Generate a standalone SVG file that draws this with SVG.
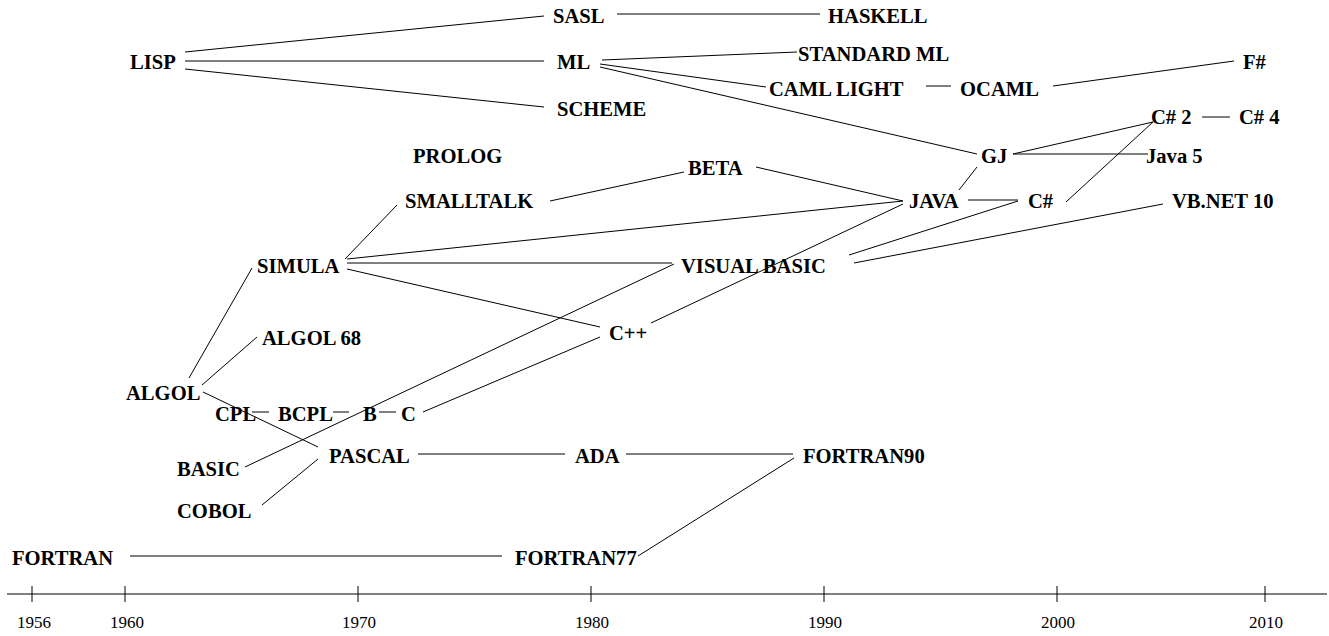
<svg xmlns="http://www.w3.org/2000/svg" width="1329" height="636" viewBox="0 0 1329 636">
<style>
.n{font-family:"Liberation Serif","Times New Roman",serif;font-weight:bold;font-size:20.6px;fill:#000}
.y{font-family:"Liberation Serif","Times New Roman",serif;font-size:17px;fill:#000;text-anchor:middle}
line{stroke:#000;stroke-width:1;fill:none}
</style>
<rect width="1329" height="636" fill="#fff"/>
<g id="connectors">
<line x1="185" y1="52" x2="544" y2="16"/>
<line x1="185" y1="61" x2="544" y2="61"/>
<line x1="185" y1="69" x2="544" y2="107"/>
<line x1="617" y1="14" x2="820" y2="14"/>
<line x1="602" y1="60" x2="797" y2="52"/>
<line x1="600" y1="64" x2="766" y2="87"/>
<line x1="600" y1="67" x2="977" y2="154"/>
<line x1="926" y1="86" x2="951" y2="86"/>
<line x1="1053" y1="86" x2="1234" y2="61"/>
<line x1="1202" y1="117" x2="1230" y2="117"/>
<line x1="1013" y1="154" x2="1153" y2="122"/>
<line x1="1013" y1="154" x2="1148" y2="154"/>
<line x1="977" y1="167" x2="959" y2="190"/>
<line x1="1066" y1="202" x2="1153" y2="122"/>
<line x1="968" y1="200" x2="1018" y2="200"/>
<line x1="1018" y1="201" x2="849" y2="255"/>
<line x1="1163" y1="204" x2="854" y2="263"/>
<line x1="756" y1="167" x2="903" y2="201"/>
<line x1="550" y1="201" x2="684" y2="172"/>
<line x1="345" y1="259" x2="397" y2="205"/>
<line x1="347" y1="259" x2="903" y2="201"/>
<line x1="347" y1="263" x2="672" y2="263"/>
<line x1="347" y1="269" x2="600" y2="327"/>
<line x1="651" y1="323" x2="903" y2="204"/>
<line x1="423" y1="412" x2="600" y2="337"/>
<line x1="245" y1="467" x2="674" y2="264"/>
<line x1="189" y1="378" x2="252" y2="268"/>
<line x1="202" y1="385" x2="257" y2="337"/>
<line x1="203" y1="392" x2="318" y2="447"/>
<line x1="252" y1="412" x2="269" y2="412"/>
<line x1="333" y1="412" x2="349" y2="412"/>
<line x1="379" y1="412" x2="396" y2="412"/>
<line x1="262" y1="505" x2="318" y2="459"/>
<line x1="418" y1="454" x2="565" y2="454"/>
<line x1="626" y1="454" x2="793" y2="454"/>
<line x1="638" y1="556" x2="794" y2="458"/>
<line x1="130" y1="556" x2="502" y2="556"/>
</g>
<g id="axis">
<line x1="7" y1="594" x2="1327" y2="594"/>
<line x1="32" y1="586" x2="32" y2="602"/>
<line x1="125" y1="586" x2="125" y2="602"/>
<line x1="358" y1="586" x2="358" y2="602"/>
<line x1="591" y1="586" x2="591" y2="602"/>
<line x1="824" y1="586" x2="824" y2="602"/>
<line x1="1057" y1="586" x2="1057" y2="602"/>
<line x1="1265" y1="586" x2="1265" y2="602"/>
<text class="y" x="34" y="628">1956</text>
<text class="y" x="127" y="628">1960</text>
<text class="y" x="359" y="628">1970</text>
<text class="y" x="592" y="628">1980</text>
<text class="y" x="825" y="628">1990</text>
<text class="y" x="1058" y="628">2000</text>
<text class="y" x="1266" y="628">2010</text>
</g>
<g id="n-lisp"><text class="n" x="130" y="69">LISP</text></g>
<g id="n-sasl"><text class="n" x="553" y="23">SASL</text></g>
<g id="n-haskell"><text class="n" x="828" y="23">HASKELL</text></g>
<g id="n-ml"><text class="n" x="557" y="69">ML</text></g>
<g id="n-scheme"><text class="n" x="557" y="116">SCHEME</text></g>
<g id="n-standardml"><text class="n" x="798" y="61">STANDARD ML</text></g>
<g id="n-camllight"><text class="n" x="769" y="96">CAML LIGHT</text></g>
<g id="n-ocaml"><text class="n" x="960" y="96">OCAML</text></g>
<g id="n-fsharp"><text class="n" x="1243" y="69">F#</text></g>
<g id="n-csharp2"><text class="n" x="1151" y="124">C# 2</text></g>
<g id="n-csharp4"><text class="n" x="1239" y="124">C# 4</text></g>
<g id="n-prolog"><text class="n" x="413" y="163">PROLOG</text></g>
<g id="n-gj"><text class="n" x="981" y="163">GJ</text></g>
<g id="n-java5"><text class="n" x="1146" y="163">Java 5</text></g>
<g id="n-beta"><text class="n" x="688" y="175">BETA</text></g>
<g id="n-smalltalk"><text class="n" x="405" y="208">SMALLTALK</text></g>
<g id="n-java"><text class="n" x="909" y="208">JAVA</text></g>
<g id="n-csharp"><text class="n" x="1028" y="208">C#</text></g>
<g id="n-vbnet10"><text class="n" x="1172" y="208">VB.NET 10</text></g>
<g id="n-simula"><text class="n" x="257" y="273">SIMULA</text></g>
<g id="n-visualbasic"><text class="n" x="681" y="273">VISUAL BASIC</text></g>
<g id="n-cpp"><text class="n" x="609" y="340">C++</text></g>
<g id="n-algol68"><text class="n" x="262" y="345">ALGOL 68</text></g>
<g id="n-algol"><text class="n" x="126" y="400">ALGOL</text></g>
<g id="n-cpl"><text class="n" x="215" y="421">CPL</text></g>
<g id="n-bcpl"><text class="n" x="278" y="421">BCPL</text></g>
<g id="n-b"><text class="n" x="363" y="421">B</text></g>
<g id="n-c"><text class="n" x="401" y="421">C</text></g>
<g id="n-basic"><text class="n" x="177" y="476">BASIC</text></g>
<g id="n-pascal"><text class="n" x="329" y="463">PASCAL</text></g>
<g id="n-ada"><text class="n" x="575" y="463">ADA</text></g>
<g id="n-fortran90"><text class="n" x="803" y="463">FORTRAN90</text></g>
<g id="n-cobol"><text class="n" x="177" y="518">COBOL</text></g>
<g id="n-fortran"><text class="n" x="12" y="565">FORTRAN</text></g>
<g id="n-fortran77"><text class="n" x="515" y="565">FORTRAN77</text></g>
</svg>
